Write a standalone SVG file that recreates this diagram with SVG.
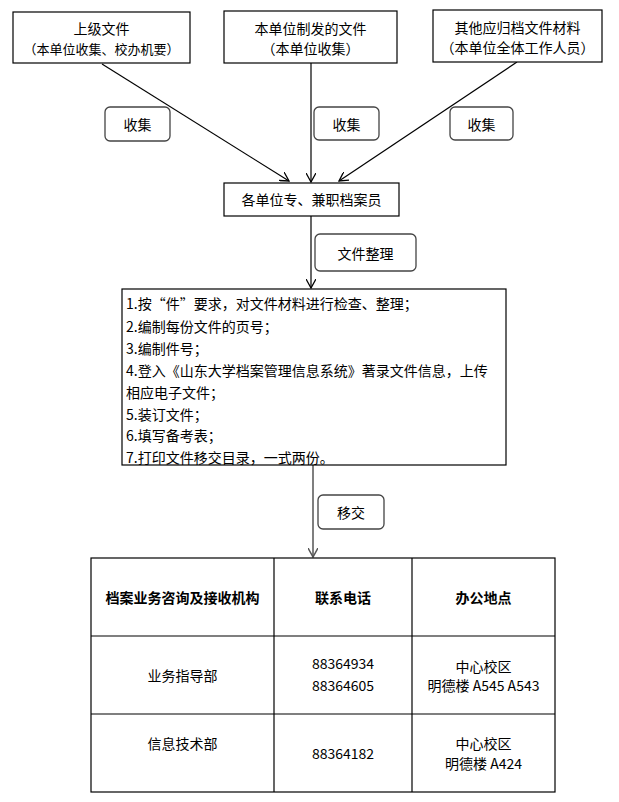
<svg xmlns="http://www.w3.org/2000/svg" width="619" height="802" viewBox="0 0 619 802">
<style>
text{font-family:"Noto Sans CJK SC","Liberation Sans",sans-serif;font-size:14px;fill:#000;dominant-baseline:central}
.c{text-anchor:middle}
.box{fill:#fff;stroke:#000;stroke-width:1.2}
.lbl{fill:#fff;stroke:#444;stroke-width:1.3}
.ln{fill:none;stroke:#000;stroke-width:1.2}
.b{font-weight:bold}
</style>
<defs>
<marker id="ah" viewBox="0 0 10 10" refX="9" refY="5" markerWidth="10" markerHeight="10" markerUnits="userSpaceOnUse" orient="auto">
<path d="M0,0 L9,5 L0,10" fill="none" stroke="#000" stroke-width="1.3"/>
</marker>
<marker id="ahg" viewBox="0 0 10 10" refX="9" refY="5" markerWidth="10" markerHeight="10" markerUnits="userSpaceOnUse" orient="auto">
<path d="M0,0 L9,5 L0,10" fill="none" stroke="#555" stroke-width="1.5"/>
</marker>
</defs>
<g id="connectors">
<line class="ln" x1="102" y1="64" x2="289" y2="181" marker-end="url(#ah)"/>
<line class="ln" x1="311" y1="63" x2="311" y2="182" marker-end="url(#ah)"/>
<line class="ln" x1="517" y1="62" x2="339" y2="181" marker-end="url(#ah)"/>
<line class="ln" x1="311" y1="216" x2="311" y2="288" marker-end="url(#ah)"/>
<line x1="313" y1="465" x2="313" y2="557" stroke="#555" stroke-width="1.5" marker-end="url(#ahg)"/>
</g>
<g id="src1"><rect class="box" x="13" y="12" width="177" height="51"/>
<text class="c" x="101.5" y="28">上级文件</text><text class="c" x="101.5" y="48" style="font-size:13px">（本单位收集、校办机要）</text></g>
<g id="src2"><rect class="box" x="224" y="11" width="173" height="52"/>
<text class="c" x="310.5" y="28">本单位制发的文件</text><text class="c" x="310.5" y="48">（本单位收集）</text></g>
<g id="src3"><rect class="box" x="433" y="10" width="169" height="52"/>
<text class="c" x="517.5" y="27">其他应归档文件材料</text><text class="c" x="517.5" y="47">（本单位全体工作人员）</text></g>
<g id="lbl1"><rect class="lbl" x="105" y="107" width="65" height="34" rx="5"/><text class="c" x="137.5" y="124">收集</text></g>
<g id="lbl2"><rect class="lbl" x="314" y="107" width="65" height="33" rx="5"/><text class="c" x="346.5" y="123.5">收集</text></g>
<g id="lbl3"><rect class="lbl" x="450" y="107" width="63" height="33" rx="5"/><text class="c" x="481.5" y="123.5">收集</text></g>
<g id="archivist"><rect class="box" x="224" y="183" width="175" height="33"/><text class="c" x="311.5" y="199">各单位专、兼职档案员</text></g>
<g id="lbl4"><rect class="lbl" x="315" y="234" width="101" height="37" rx="5"/><text class="c" x="365.5" y="252.5">文件整理</text></g>
<g id="steps"><rect class="box" x="122" y="289" width="384" height="176"/>
<text x="126" y="303">1.按“件”要求，对文件材料进行检查、整理；</text>
<text x="126" y="326">2.编制每份文件的页号；</text>
<text x="126" y="348">3.编制件号；</text>
<text x="126" y="370">4.登入《山东大学档案管理信息系统》著录文件信息，上传</text>
<text x="126" y="392">相应电子文件；</text>
<text x="126" y="414">5.装订文件；</text>
<text x="126" y="435">6.填写备考表；</text>
<text x="126" y="457">7.打印文件移交目录，一式两份。</text>
</g>
<g id="lbl5"><rect class="lbl" x="318" y="495" width="66" height="34" rx="5"/><text class="c" x="351" y="512">移交</text></g>
<g id="table">
<rect class="box" x="91" y="558" width="464" height="234"/>
<line class="ln" x1="274" y1="558" x2="274" y2="792"/>
<line class="ln" x1="412" y1="558" x2="412" y2="792"/>
<line class="ln" x1="91" y1="636" x2="555" y2="636"/>
<line class="ln" x1="91" y1="714" x2="555" y2="714"/>
<text class="c b" x="182.5" y="597">档案业务咨询及接收机构</text>
<text class="c b" x="343" y="597">联系电话</text>
<text class="c b" x="483.5" y="597">办公地点</text>
<text class="c" x="182.5" y="675">业务指导部</text>
<text class="c" x="343" y="663">88364934</text>
<text class="c" x="343" y="685">88364605</text>
<text class="c" x="483.5" y="666">中心校区</text>
<text class="c" x="483.5" y="685">明德楼 A545 A543</text>
<text class="c" x="182.5" y="743">信息技术部</text>
<text class="c" x="343" y="753">88364182</text>
<text class="c" x="483.5" y="743">中心校区</text>
<text class="c" x="483.5" y="763">明德楼 A424</text>
</g>
</svg>
